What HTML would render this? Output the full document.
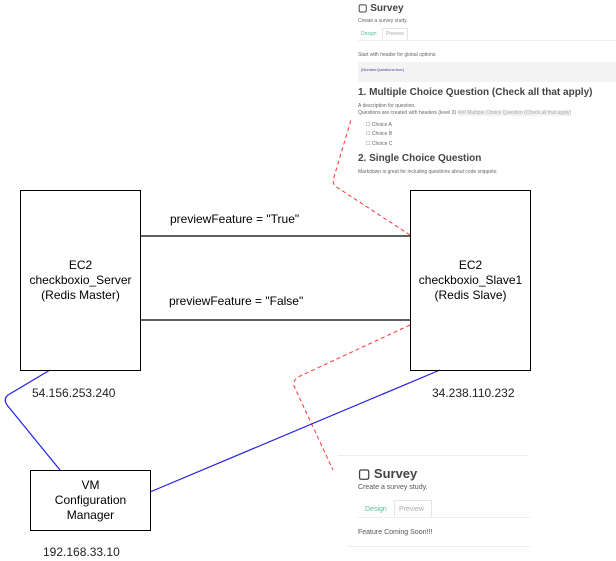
<!DOCTYPE html>
<html><head><style>
body{margin:0;width:616px;height:561px;background:#fff;position:relative;overflow:hidden;font-family:"Liberation Sans",sans-serif}
.t{position:absolute;white-space:nowrap}
.box{position:absolute;border:1.5px solid #000;box-sizing:border-box;display:flex;align-items:center;justify-content:center;text-align:center;font-size:12px;line-height:15px;color:#000}
.s{position:absolute;font-family:"Liberation Sans",sans-serif;font-weight:bold;color:#444}
.g{color:#666;font-size:5px}
</style></head><body>
<!-- top screenshot -->
<div class="t s" style="left:358px;top:3px;font-size:10px">▢ Survey</div>
<div class="t g" style="left:358px;top:18px">Create a survey study.</div>
<div class="t" style="left:361px;top:31px;font-size:5px;color:#5b9">Design</div>
<div style="position:absolute;left:382px;top:28px;width:24px;height:12px;border:1px solid #e5e5e5;border-bottom:none"></div>
<div class="t" style="left:386px;top:31px;font-size:5px;color:#aaa">Preview</div>
<div style="position:absolute;left:358px;top:40px;width:258px;height:1px;background:#eee"></div>
<div class="t g" style="left:358px;top:52px">Start with header for global options:</div>
<div style="position:absolute;left:358px;top:62px;width:258px;height:20px;background:#f4f4f4"></div>
<div class="t" style="left:361px;top:67px;font-size:4px;color:#448">{NumberQuestions:true}</div>
<div class="t s" style="left:358px;top:87px;font-size:10px">1. Multiple Choice Question (Check all that apply)</div>
<div class="t g" style="left:358px;top:103px">A description for question.</div>
<div class="t g" style="left:358px;top:110px">Questions are created with headers (level 3) <span style="background:#f2f2f2;color:#aaa">### Multiple Choice Question (Check all that apply)</span></div>
<div class="t g" style="left:366px;top:122px">☐ Choice A</div>
<div class="t g" style="left:366px;top:131px">☐ Choice B</div>
<div class="t g" style="left:366px;top:141px">☐ Choice C</div>
<div class="t s" style="left:358px;top:153px;font-size:10px">2. Single Choice Question</div>
<div class="t g" style="left:358px;top:169px">Markdown is great for including questions about code snippets:</div>
<!-- bottom screenshot -->
<div style="position:absolute;left:338px;top:455px;width:190px;height:1px;background:#eee"></div>
<div class="t s" style="left:358px;top:466px;font-size:13px">▢ Survey</div>
<div class="t" style="left:358px;top:484px;font-size:7px;color:#555">Create a survey study.</div>
<div class="t" style="left:365px;top:506px;font-size:7px;color:#5b9">Design</div>
<div style="position:absolute;left:394px;top:500px;width:36px;height:17px;border:1px solid #e5e5e5;border-bottom:none"></div>
<div class="t" style="left:399px;top:506px;font-size:7px;color:#aaa">Preview</div>
<div style="position:absolute;left:358px;top:517px;width:172px;height:1px;background:#eee"></div>
<div class="t" style="left:358px;top:529px;font-size:7px;color:#555">Feature Coming Soon!!!</div>
<div style="position:absolute;left:348px;top:546px;width:182px;height:1px;background:#eee"></div>

<svg width="616" height="561" style="position:absolute;left:0;top:0">
<line x1="140" y1="236" x2="410" y2="236" stroke="#000" stroke-width="1.2"/>
<line x1="140" y1="320" x2="410" y2="320" stroke="#000" stroke-width="1.2"/>
<path d="M410,235 L335,186 Q332,182 334,177 L351,120" fill="none" stroke="#f33" stroke-dasharray="4,3"/>
<path d="M410,325 L298,377 Q293,380 294,386 L333,470" fill="none" stroke="#f33" stroke-dasharray="4,3"/>
<path d="M50,370 L8,395 Q3,399 7,405 L60,470" fill="none" stroke="#22d" stroke-width="1.2"/>
<line x1="150" y1="492" x2="440" y2="370" stroke="#22d" stroke-width="1.2"/>
</svg>
<div class="box" style="left:20px;top:190px;width:121px;height:181px">EC2<br>checkboxio_Server<br>(Redis Master)</div>
<div class="box" style="left:410px;top:190px;width:121px;height:181px">EC2<br>checkboxio_Slave1<br>(Redis Slave)</div>
<div class="box" style="left:30px;top:470px;width:121px;height:61px">VM<br>Configuration<br>Manager</div>
<div class="t" style="left:170px;top:212px;font-size:12px">previewFeature = "True"</div>
<div class="t" style="left:169px;top:294px;font-size:12px">previewFeature = "False"</div>
<div class="t" style="left:32px;top:386px;font-size:12px;color:#222">54.156.253.240</div>
<div class="t" style="left:432px;top:386px;font-size:12px;color:#222">34.238.110.232</div>
<div class="t" style="left:43px;top:545px;font-size:12px;color:#222">192.168.33.10</div>
</body></html>
